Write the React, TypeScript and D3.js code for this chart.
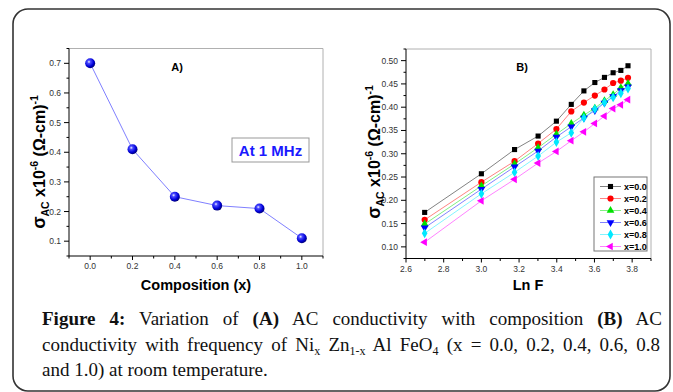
import React, { useLayoutEffect, useRef } from "react";
import * as d3 from "d3";

// Panel A data
const compX = [0.0, 0.2, 0.4, 0.6, 0.8, 1.0];
const sigmaA = [0.70, 0.41, 0.25, 0.22, 0.21, 0.11];
const aXTicks = [0.0, 0.2, 0.4, 0.6, 0.8, 1.0];
const aYTicks = [0.1, 0.2, 0.3, 0.4, 0.5, 0.6, 0.7];

// Panel B data
const lnF = [2.699, 3.0, 3.176, 3.301, 3.398, 3.477, 3.544, 3.602, 3.653, 3.699, 3.740, 3.778];
const seriesNames = ["x=0.0", "x=0.2", "x=0.4", "x=0.6", "x=0.8", "x=1.0"];
const s00 = [0.174, 0.257, 0.309, 0.338, 0.370, 0.406, 0.435, 0.453, 0.464, 0.474, 0.479, 0.489];
const s02 = [0.158, 0.239, 0.284, 0.322, 0.353, 0.391, 0.410, 0.425, 0.438, 0.452, 0.457, 0.463];
const s04 = [0.149, 0.231, 0.278, 0.313, 0.342, 0.365, 0.383, 0.398, 0.414, 0.427, 0.442, 0.451];
const s06 = [0.141, 0.224, 0.272, 0.306, 0.336, 0.358, 0.377, 0.393, 0.409, 0.423, 0.436, 0.444];
const s08 = [0.129, 0.214, 0.260, 0.295, 0.325, 0.345, 0.377, 0.396, 0.410, 0.421, 0.430, 0.440];
const s10 = [0.110, 0.199, 0.245, 0.280, 0.305, 0.328, 0.347, 0.365, 0.381, 0.397, 0.405, 0.416];
const seriesValues = [s00, s02, s04, s06, s08, s10];
const seriesColors = ["#000000", "#ff0000", "#00e000", "#0000ff", "#00e8ff", "#ff00ff"];
const bXTicks = [2.6, 2.8, 3.0, 3.2, 3.4, 3.6, 3.8];
const bYTicks = [0.10, 0.15, 0.20, 0.25, 0.30, 0.35, 0.40, 0.45, 0.50];

const SANS = "'Liberation Sans', Arial, sans-serif";
const SERIF = "'Liberation Serif', 'Times New Roman', serif";

type Sc = d3.ScaleLinear<number, number>;

function Axes({ x, y, xMajor, xMinor, yMajor, yMinor, xFmt, yFmt }: {
  x: Sc; y: Sc; xMajor: number[]; xMinor: number[]; yMajor: number[]; yMinor: number[];
  xFmt: (v: number) => string; yFmt: (v: number) => string;
}) {
  const [x0, x1] = x.range();
  const [y0, y1] = y.range();
  return (
    <g>
      <line x1={x0} x2={x1} y1={y1} y2={y1} stroke="#b0b0b0" strokeWidth={1} />
      <line x1={x1} x2={x1} y1={y0} y2={y1} stroke="#b0b0b0" strokeWidth={1} />
      <line x1={x0} x2={x1} y1={y0} y2={y0} stroke="#000" strokeWidth={1} />
      <line x1={x0} x2={x0} y1={y0} y2={y1} stroke="#000" strokeWidth={1} />
      {xMajor.map((v) => (
        <g key={"xm" + v}>
          <line x1={x(v)} x2={x(v)} y1={y0} y2={y0 + 4} stroke="#000" />
          <text x={x(v)} y={y0 + 13} fontSize={8.5} fill="#333" textAnchor="middle" fontFamily={SANS}>{xFmt(v)}</text>
        </g>
      ))}
      {xMinor.map((v) => (
        <line key={"xn" + v} x1={x(v)} x2={x(v)} y1={y0} y2={y0 + 2.5} stroke="#000" />
      ))}
      {yMajor.map((v) => (
        <g key={"ym" + v}>
          <line x1={x0 - 5} x2={x0} y1={y(v)} y2={y(v)} stroke="#000" />
          <text x={x0 - 8} y={y(v) + 3} fontSize={8.5} fill="#333" textAnchor="end" fontFamily={SANS}>{yFmt(v)}</text>
        </g>
      ))}
      {yMinor.map((v) => (
        <line key={"yn" + v} x1={x0 - 2.5} x2={x0} y1={y(v)} y2={y(v)} stroke="#000" />
      ))}
    </g>
  );
}

function YTitle({ x, y }: { x: number; y: number }) {
  return (
    <text transform={`translate(${x},${y}) rotate(-90)`} textAnchor="middle" fontFamily={SANS} fontWeight="bold" fontSize={16} fill="#000">
      <tspan fontSize={18}>σ</tspan>
      <tspan dy={4} fontSize={10.5}>AC</tspan>
      <tspan dy={-4}> x10</tspan>
      <tspan dy={-7} fontSize={10.5}>-6</tspan>
      <tspan dy={7}> (Ω-cm)</tspan>
      <tspan dy={-7} fontSize={10.5}>-1</tspan>
    </text>
  );
}

const symbolFor = (i: number) => {
  const types = [d3.symbolSquare, d3.symbolCircle, d3.symbolTriangle, d3.symbolTriangle, d3.symbolDiamond, d3.symbolTriangle];
  const sizes = [26, 30, 26, 26, 28, 26];
  return d3.symbol().type(types[i]).size(sizes[i])() as string;
};
const rotFor = [0, 0, 0, 180, 0, -90];

function JustLine({ x, y, width, children, justify }: { x: number; y: number; width: number; children: React.ReactNode; justify: boolean }) {
  const ref = useRef<SVGTextElement>(null);
  useLayoutEffect(() => {
    const el = ref.current;
    if (!el || !justify) return;
    el.setAttribute("word-spacing", "0");
    const w = el.getBBox().width;
    const spaces = (el.textContent || "").split(" ").length - 1;
    if (spaces > 0) el.setAttribute("word-spacing", String((width - w) / spaces));
  }, [width, justify]);
  return (
    <text ref={ref} x={x} y={y} fontFamily={SERIF} fontSize={19} fill="#111">{children}</text>
  );
}

export default function App() {
  // Panel A scales
  const ax = d3.scaleLinear().domain([-0.1, 1.1]).range([69, 323]);
  const ay = d3.scaleLinear().domain([0.05, 0.75]).range([256, 48.5]);
  // Panel B scales
  const bx = d3.scaleLinear().domain([2.6, 3.9]).range([406, 651]);
  const by = d3.scaleLinear().domain([0.075, 0.525]).range([258.5, 49]);

  const lineA = d3.line<number>().x((_, i) => ax(compX[i])).y((d) => ay(d));
  const lineB = d3.line<number>().x((_, i) => bx(lnF[i])).y((d) => by(d));

  const aXMinor = d3.range(-0.1, 1.11, 0.2).map((v) => +v.toFixed(2));
  const aYMinor = d3.range(0.05, 0.76, 0.1).map((v) => +v.toFixed(3));
  const bXMinor = d3.range(2.7, 3.91, 0.2).map((v) => +v.toFixed(2));
  const bYMinor = d3.range(0.075, 0.526, 0.05).map((v) => +v.toFixed(3));

  const legX = 594, legY = 177, legW = 53, legH = 74;

  return (
    <svg width={673} height={392} style={{ position: "absolute", left: 0, top: 0, background: "#fff" }}>
      <defs>
        <radialGradient id="sphere" cx="38%" cy="35%" r="65%">
          <stop offset="0%" stopColor="#f0f4ff" />
          <stop offset="25%" stopColor="#4a4aff" />
          <stop offset="70%" stopColor="#0000d8" />
          <stop offset="100%" stopColor="#00007a" />
        </radialGradient>
      </defs>
      <rect x={0} y={0} width={673} height={392} fill="#fff" />
      <rect x={13} y={9} width={657} height={382} rx={15} ry={15} fill="none" stroke="#333" strokeWidth={1.6} />

      {/* Panel A */}
      <Axes x={ax} y={ay} xMajor={aXTicks} xMinor={aXMinor} yMajor={aYTicks} yMinor={aYMinor}
        xFmt={(v) => v.toFixed(1)} yFmt={(v) => v.toFixed(1)} />
      <path d={lineA(sigmaA) || ""} fill="none" stroke="#8080ff" strokeWidth={1} />
      {sigmaA.map((v, i) => (
        <circle key={i} cx={ax(compX[i])} cy={ay(v)} r={5} fill="url(#sphere)" />
      ))}
      <text x={177} y={71} fontFamily={SANS} fontWeight="bold" fontSize={11} textAnchor="middle">A)</text>
      <rect x={232} y={138} width={77} height={24} fill="#fff" stroke="#999" strokeWidth={1} />
      <text x={270.5} y={156} fontFamily={SANS} fontWeight="bold" fontSize={15} fill="#1a1aff" textAnchor="middle">At 1 MHz</text>
      <YTitle x={44.5} y={162} />
      <text x={196} y={290} fontFamily={SANS} fontWeight="bold" fontSize={14.5} textAnchor="middle">Composition (x)</text>

      {/* Panel B */}
      <Axes x={bx} y={by} xMajor={bXTicks} xMinor={bXMinor} yMajor={bYTicks} yMinor={bYMinor}
        xFmt={(v) => v.toFixed(1)} yFmt={(v) => v.toFixed(2)} />
      {seriesValues.map((vals, si) => (
        <g key={si}>
          <path d={lineB(vals) || ""} fill="none" stroke={seriesColors[si]} strokeOpacity={0.55} strokeWidth={0.9} />
          {vals.map((v, i) => (
            <path key={i} d={symbolFor(si)} transform={`translate(${bx(lnF[i])},${by(v)}) rotate(${rotFor[si]})`} fill={seriesColors[si]} />
          ))}
        </g>
      ))}
      <text x={522} y={71} fontFamily={SANS} fontWeight="bold" fontSize={11} textAnchor="middle">B)</text>
      <rect x={legX} y={legY} width={legW} height={legH} fill="#fff" stroke="#777" strokeWidth={1} />
      {seriesNames.map((name, si) => {
        const cy = legY + 9.5 + si * 12;
        return (
          <g key={name}>
            <line x1={legX + 6} x2={legX + 27} y1={cy} y2={cy} stroke={seriesColors[si]} strokeOpacity={0.55} strokeWidth={0.9} />
            <path d={symbolFor(si)} transform={`translate(${legX + 16.5},${cy}) rotate(${rotFor[si]})`} fill={seriesColors[si]} />
            <text x={legX + 30} y={cy + 3.2} fontFamily={SANS} fontWeight="bold" fontSize={9}>{name}</text>
          </g>
        );
      })}
      <YTitle x={379.5} y={152} />
      <text x={528} y={290} fontFamily={SANS} fontWeight="bold" fontSize={14.5} textAnchor="middle">Ln F</text>

      {/* Caption */}
      <JustLine x={42} y={325} width={620} justify={true}>
        <tspan fontWeight="bold">Figure 4:</tspan>
        <tspan> Variation of </tspan>
        <tspan fontWeight="bold">(A)</tspan>
        <tspan> AC conductivity with composition </tspan>
        <tspan fontWeight="bold">(B)</tspan>
        <tspan> AC</tspan>
      </JustLine>
      <JustLine x={42} y={350.5} width={618} justify={true}>
        <tspan>conductivity with frequency of Ni</tspan>
        <tspan dy={4} fontSize={12}>x</tspan>
        <tspan dy={-4}> Zn</tspan>
        <tspan dy={4} fontSize={12}>1-x</tspan>
        <tspan dy={-4}> Al FeO</tspan>
        <tspan dy={4} fontSize={12}>4</tspan>
        <tspan dy={-4}> (x = 0.0, 0.2, 0.4, 0.6, 0.8</tspan>
      </JustLine>
      <JustLine x={42} y={376} width={0} justify={false}>
        and 1.0) at room temperature.
      </JustLine>
    </svg>
  );
}
